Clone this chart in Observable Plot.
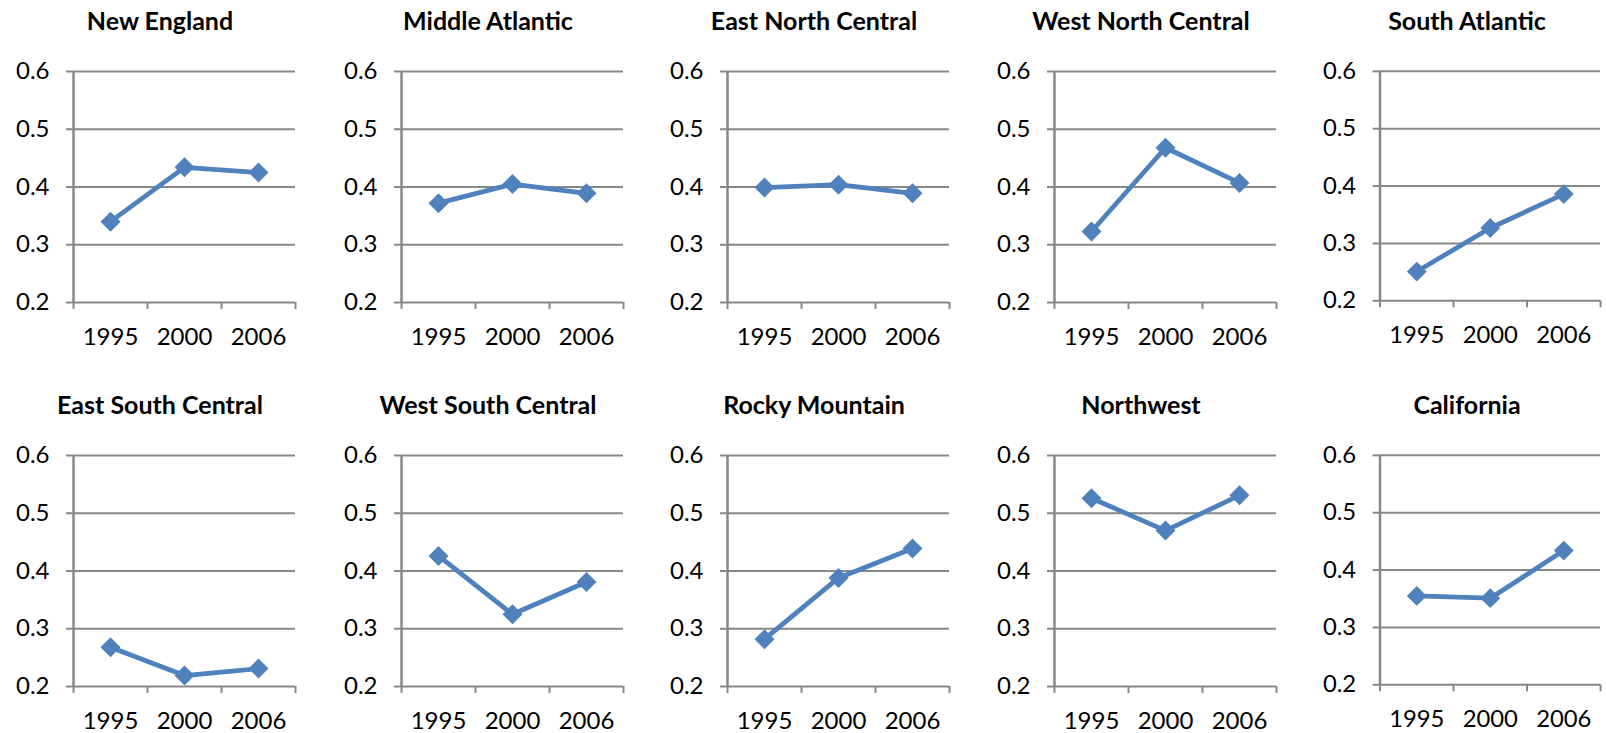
<!DOCTYPE html>
<html>
<head>
<meta charset="utf-8">
<script src="https://cdn.jsdelivr.net/npm/d3@7"></script>
<script src="https://cdn.jsdelivr.net/npm/@observablehq/plot@0.6"></script>
<style>
html, body { margin: 0; padding: 0; background: #fff; overflow: hidden; }
#chart { position: relative; width: 1606px; height: 733px; }
.title { position: absolute; width: 300px; text-align: center; white-space: nowrap;
         font: bold 25px Lato, sans-serif; line-height: 25px; color: #000; }
.panel { position: absolute; }
.panel svg { overflow: visible; }
</style>
</head>
<body>
<div id="chart"></div>
<script>
// ---- data ----
const years = ["1995", "2000", "2006"];
const yTicks = [0.2, 0.3, 0.4, 0.5, 0.6];
const regions = [
  "New England", "Middle Atlantic", "East North Central", "West North Central", "South Atlantic",
  "East South Central", "West South Central", "Rocky Mountain", "Northwest", "California"
];
const newEngland       = [0.340, 0.434, 0.425];
const middleAtlantic   = [0.372, 0.405, 0.389];
const eastNorthCentral = [0.399, 0.404, 0.389];
const westNorthCentral = [0.323, 0.468, 0.407];
const southAtlantic    = [0.251, 0.327, 0.386];
const eastSouthCentral = [0.268, 0.219, 0.231];
const westSouthCentral = [0.426, 0.325, 0.381];
const rockyMountain    = [0.282, 0.388, 0.439];
const northwest        = [0.526, 0.470, 0.531];
const california       = [0.355, 0.351, 0.434];
const series = [newEngland, middleAtlantic, eastNorthCentral, westNorthCentral, southAtlantic,
                eastSouthCentral, westSouthCentral, rockyMountain, northwest, california];

// ---- layout ----
const axisLeft = [73, 401, 727, 1054, 1380];   // y-axis x position of each column
const rowTop = [71, 455];                      // y of the 0.6 gridline per row
const mL = 73, mR = 6, mT = 20, mB = 46, innerW = 222, innerH = 231;
const GRAY = "#878787", BLUE = "#4F81BD";

const chart = document.getElementById("chart");
const boundaries = d3.range(years.length + 1).map(i => i - 0.5);
const centers = d3.range(years.length);

regions.forEach((name, k) => {
  const col = k % 5, row = Math.floor(k / 5);
  const data = series[k].map((v, i) => ({i, year: years[i], v}));

  const svg = Plot.plot({
    width: mL + innerW + mR,
    height: mT + innerH + mB,
    marginLeft: mL, marginRight: mR, marginTop: mT, marginBottom: mB,
    x: {type: "linear", domain: [-0.5, years.length - 0.5], axis: null},
    y: {domain: [0.2, 0.6], axis: null},
    style: {fontFamily: "Lato, sans-serif", fontSize: "24px", color: "#000", background: "transparent"},
    marks: [
      Plot.gridY(yTicks, {stroke: GRAY, strokeOpacity: 1, strokeWidth: 2}),
      Plot.axisY(yTicks, {label: null, tickSize: 7, tickPadding: 17, stroke: GRAY, strokeWidth: 2,
                          fill: "#000", tickFormat: d => d.toFixed(1)}),
      Plot.ruleX([-0.5], {stroke: GRAY, strokeWidth: 2.5}),
      Plot.axisX(boundaries, {label: null, tickSize: 7, stroke: GRAY, strokeWidth: 2, tickFormat: () => ""}),
      Plot.axisX(centers, {label: null, tickSize: 0, tickPadding: 25, fill: "#000", tickFormat: i => years[i]}),
      Plot.line(data, {x: "i", y: "v", stroke: BLUE, strokeWidth: 4.8}),
      Plot.dot(data, {x: "i", y: "v", symbol: "diamond2", r: 9, fill: BLUE, stroke: "none"})
    ]
  });
  const wrap = document.createElement("div");
  wrap.className = "panel";
  wrap.style.left = (axisLeft[col] - mL) + "px";
  wrap.style.top = (rowTop[row] - mT) + "px";
  wrap.appendChild(svg);
  chart.appendChild(wrap);

  const t = document.createElement("div");
  t.className = "title";
  t.textContent = name;
  t.style.left = (axisLeft[col] + 87 - 150) + "px";
  t.style.top = (rowTop[row] - 63) + "px";
  chart.appendChild(t);
});
</script>
</body>
</html>
